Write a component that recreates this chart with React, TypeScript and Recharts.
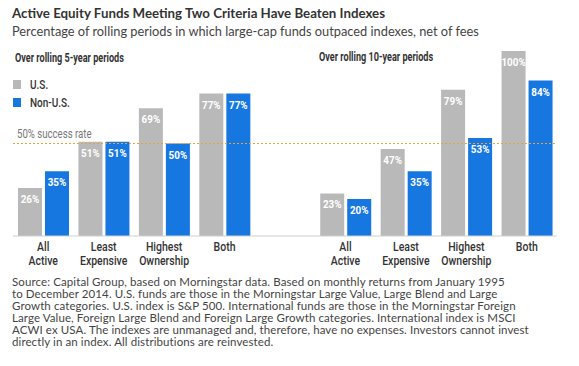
import { BarChart, Bar, XAxis, YAxis, ReferenceLine, LabelList } from 'recharts';

const categories = ['All\nActive', 'Least\nExpensive', 'Highest\nOwnership', 'Both'];
const fiveYearUS = [26, 51, 69, 77];
const fiveYearNonUS = [35, 51, 50, 77];
const tenYearUS = [23, 47, 79, 100];
const tenYearNonUS = [20, 35, 53, 84];

const rows = [
    ...categories.map((c, i) => ({ name: c, us: fiveYearUS[i], nonUs: fiveYearNonUS[i] })),
    { name: '', us: null, nonUs: null },
    ...categories.map((c, i) => ({ name: c, us: tenYearUS[i], nonUs: tenYearNonUS[i] })),
];

const GRAY = '#b9b9b9';
const BLUE = '#1677e0';
const narrow = 'Roboto, sans-serif';
const sans = 'Lato, "Open Sans", sans-serif';

const footnote = [
    'Source: Capital Group, based on Morningstar data. Based on monthly returns from January 1995',
    'to December 2014. U.S. funds are those in the Morningstar Large Value, Large Blend and Large',
    'Growth categories. U.S. index is S&P 500. International funds are those in the Morningstar Foreign',
    'Large Value, Foreign Large Blend and Foreign Large Growth categories. International index is MSCI',
    'ACWI ex USA. The indexes are unmanaged and, therefore, have no expenses. Investors cannot invest',
    'directly in an index. All distributions are reinvested.',
];

// squeeze text horizontally to mimic the condensed face
function Narrow({ k, children }: any) {
    return <span style={{ display: 'inline-block', transform: `scaleX(${k})`, transformOrigin: 'left center', whiteSpace: 'nowrap' }}>{children}</span>;
}

function CatTick(props: any) {
    const { x, y, payload } = props;
    const lines = String(payload.value).split('\n');
    return (
        <g transform={`translate(${x},${y}) scale(0.84,1)`}>
            <text x={0} y={0} textAnchor="middle" fill="#333" fontFamily={narrow} fontWeight={500} fontSize={12.5}>
                {lines.map((l, i) => (
                    <tspan key={i} x={0} dy={i === 0 ? 7 : 14}>{l}</tspan>
                ))}
            </text>
        </g>
    );
}

function ValueLabel(props: any) {
    const { x, y, width, value } = props;
    if (value == null) return null;
    return (
        <g transform={`translate(${x + width / 2},${y + 15}) scale(0.86,1)`}>
            <text x={0} y={0} textAnchor="middle" fill="#fff" fontFamily={narrow} fontWeight={700} fontSize={11.5}>
                {`${value}%`}
            </text>
        </g>
    );
}

export default function App() {
    return (
        <div style={{ position: 'absolute', left: 0, top: 0, width: 579, height: 366, background: '#fff', overflow: 'hidden' }}>
            <div style={{ position: 'absolute', left: 12, top: 5, fontFamily: sans, fontWeight: 700, fontSize: 13.3, color: '#333', whiteSpace: 'nowrap' }}>
                Active Equity Funds Meeting Two Criteria Have Beaten Indexes
            </div>
            <div style={{ position: 'absolute', left: 12, top: 23, fontFamily: sans, fontSize: 12.8, color: '#444', whiteSpace: 'nowrap' }}>
                Percentage of rolling periods in which large-cap funds outpaced indexes, net of fees
            </div>

            <BarChart
                width={579}
                height={280}
                data={rows}
                margin={{ top: 51, right: 22, bottom: 4, left: 13 }}
                barSize={24}
                barGap={3}
                style={{ position: 'absolute', left: 0, top: 0 }}
            >
                <XAxis dataKey="name" height={40} axisLine={{ stroke: '#cfcfcf' }} tickLine={false} tick={<CatTick />} interval={0} />
                <YAxis hide domain={[0, 100]} />
                <ReferenceLine y={50} stroke="#e6a23c" strokeDasharray="2 2" strokeWidth={1} />
                <Bar dataKey="us" fill={GRAY} isAnimationActive={false}>
                    <LabelList dataKey="us" content={<ValueLabel />} />
                </Bar>
                <Bar dataKey="nonUs" fill={BLUE} isAnimationActive={false}>
                    <LabelList dataKey="nonUs" content={<ValueLabel />} />
                </Bar>
            </BarChart>

            <div style={{ position: 'absolute', left: 15, top: 50, fontFamily: narrow, fontWeight: 700, fontSize: 13, color: '#333' }}>
                <Narrow k={0.7}>Over rolling 5-year periods</Narrow>
            </div>
            <div style={{ position: 'absolute', left: 319, top: 49, fontFamily: narrow, fontWeight: 700, fontSize: 13, color: '#333' }}>
                <Narrow k={0.7}>Over rolling 10-year periods</Narrow>
            </div>

            <div style={{ position: 'absolute', left: 13, top: 75, fontFamily: narrow, fontWeight: 500, fontSize: 12.5, color: '#333' }}>
                <div style={{ display: 'flex', alignItems: 'center', height: 18 }}>
                    <span style={{ width: 8, height: 9, background: GRAY, marginRight: 9 }} />
                    <Narrow k={0.8}>U.S.</Narrow>
                </div>
                <div style={{ display: 'flex', alignItems: 'center', height: 18 }}>
                    <span style={{ width: 8, height: 9, background: BLUE, marginRight: 9 }} />
                    <Narrow k={0.8}>Non-U.S.</Narrow>
                </div>
            </div>
            <div style={{ position: 'absolute', left: 17, top: 126, fontFamily: narrow, fontSize: 12.5, color: '#777' }}>
                <Narrow k={0.77}>50% success rate</Narrow>
            </div>

            <div style={{ position: 'absolute', left: 12, top: 276, fontFamily: sans, fontSize: 11.5, letterSpacing: '0.1px', lineHeight: '12.1px', color: '#444' }}>
                {footnote.map((l, i) => (
                    <div key={i} style={{ whiteSpace: 'nowrap' }}>{l}</div>
                ))}
            </div>
        </div>
    );
}
